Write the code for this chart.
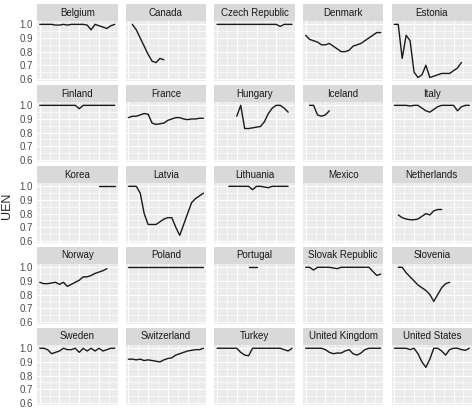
import numpy as np, pandas as pd, seaborn as sns, matplotlib
matplotlib.use("Agg")
import matplotlib.pyplot as plt
from matplotlib.patches import Rectangle
from matplotlib.ticker import MultipleLocator

n = np.nan
years = list(range(1995, 2015))
countries = ["Belgium","Canada","Czech Republic","Denmark","Estonia","Finland","France","Hungary","Iceland","Italy",
             "Korea","Latvia","Lithuania","Mexico","Netherlands","Norway","Poland","Portugal","Slovak Republic","Slovenia",
             "Sweden","Switzerland","Turkey","United Kingdom","United States"]
belgium = [1,1,1,1,.995,.995,1,.995,1,1,1,1,.995,.96,1,.99,.98,.97,.99,1]
canada = [n,1,.96,.9,.84,.78,.73,.72,.75,.74,n,n,n,n,n,n,n,n,n,n]
czech = [1,1,1,1,1,1,1,1,1,1,1,1,1,1,1,1,.985,1,1,1]
denmark = [.92,.89,.88,.87,.85,.85,.86,.84,.82,.80,.80,.81,.84,.85,.86,.88,.90,.92,.94,.94]
estonia = [1,1,.75,.92,.88,.65,.61,.63,.70,.61,.62,.63,.64,.64,.64,.66,.68,.72,n,n]
finland = [1,1,1,1,1,1,1,1,1,1,.975,1,1,1,1,1,1,1,1,1]
france = [.91,.92,.92,.93,.94,.935,.87,.86,.865,.87,.89,.90,.91,.91,.90,.895,.90,.90,.905,.905]
hungary = [n,n,n,n,n,.92,1.0,.83,.83,.835,.84,.845,.88,.94,.98,1.0,1.0,.98,.95,n]
iceland = [n,1,1,.93,.92,.93,.96,n,n,n,n,n,n,n,n,n,n,n,n,n]
italy = [1,1,1,1,.995,1,1,.98,.96,.95,.97,.99,1,1,1,1,.96,.99,1,1]
korea = [n]*15 + [1,1,1,1,1]
latvia = [1,1,1,.95,.8,.72,.72,.72,.74,.76,.77,.77,.70,.64,.72,.80,.88,.91,.93,.95]
lithuania = [n,n,n,1,1,1,1,1,1,.975,1,1,.995,.99,1,1,1,1,1,n]
mexico = [n]*20
netherlands = [n,.79,.77,.76,.755,.755,.76,.78,.80,.79,.82,.83,.83,n,n,n,n,n,n,n]
norway = [.89,.88,.88,.885,.89,.875,.89,.86,.875,.89,.905,.93,.93,.94,.955,.965,.975,.99,n,n]
poland = [1]*20
portugal = [n]*8 + [1,1,1] + [n]*9
slovak = [1,1,.98,1,1,1,1,.995,.99,1,1,1,1,1,1,1,1,.97,.94,.95]
slovenia = [n,1,1,.96,.93,.90,.87,.85,.83,.80,.75,.80,.85,.88,.89,n,n,n,n,n]
sweden = [1,1,.99,.96,.97,.98,1,.99,.99,1,.97,1,.98,1,.98,1,.98,.99,1,1]
switzerland = [.92,.92,.915,.92,.91,.915,.91,.905,.90,.915,.925,.93,.95,.96,.97,.98,.985,.99,.99,1.0]
turkey = [1,1,1,1,1,1,.97,.95,.945,1,1,1,1,1,1,1,1,.99,.98,1]
uk = [1,1,1,1,1,.99,.97,.96,.965,.965,.98,.99,.96,.95,.965,.99,1,1,1,1]
us = [1,1,1,1,.99,1,.96,.90,.86,.92,1,1,.98,.95,.99,1,1,.99,.985,1]
series = [belgium,canada,czech,denmark,estonia,finland,france,hungary,iceland,italy,korea,latvia,lithuania,mexico,
          netherlands,norway,poland,portugal,slovak,slovenia,sweden,switzerland,turkey,uk,us]

df = pd.DataFrame([{"country": c, "year": y, "UEN": v} for c, s in zip(countries, series) for y, v in zip(years, s)])

sns.set_theme(style="darkgrid", rc={"axes.facecolor": "#EBEBEB", "grid.color": "white"})
plt.rcParams['font.family'] = ['Liberation Sans', 'DejaVu Sans']
g = sns.relplot(data=df, x="year", y="UEN", col="country", col_order=countries, col_wrap=5, kind="line",
                color="#1a1a1a", linewidth=1.0, height=1, aspect=1,
                facet_kws=dict(sharex=True, sharey=True, despine=False))
fig = g.figure
fig.set_size_inches(4.74, 4.11)
fig.subplots_adjust(left=0.078, right=0.996, top=0.949, bottom=0.015, wspace=0.1, hspace=0.35)
for ax, c in zip(g.axes.flat, countries):
    ax.set_title("")
    ax.set_xlim(1994.3, 2014.7)
    ax.set_ylim(0.585, 1.025)
    ax.yaxis.set_major_locator(MultipleLocator(0.1))
    ax.yaxis.set_minor_locator(MultipleLocator(0.05))
    ax.xaxis.set_major_locator(MultipleLocator(5))
    ax.xaxis.set_minor_locator(MultipleLocator(2.5))
    ax.grid(which="major", color="white", lw=0.8)
    ax.grid(which="minor", color="white", lw=0.4)
    ax.set_xticklabels([]); ax.set_xlabel("")
    ax.tick_params(axis="x", length=0)
    ax.tick_params(axis="y", labelsize=7, colors="#4d4d4d", length=2, pad=1, which="major")
    ax.tick_params(axis="y", which="minor", length=0)
    for s in ax.spines.values():
        s.set_visible(False)
    ax.add_patch(Rectangle((0, 1.0), 1, 0.28, transform=ax.transAxes, clip_on=False,
                           facecolor="#D9D9D9", edgecolor="none"))
    ax.text(0.5, 1.14, c, transform=ax.transAxes, ha="center", va="center", fontsize=7, color="#1a1a1a")
    ax.set_ylabel("")
for i, ax in enumerate(g.axes.flat):
    if i % 5 != 0:
        ax.tick_params(axis="y", labelleft=False, length=0)
    else:
        ax.yaxis.set_major_formatter(matplotlib.ticker.FormatStrFormatter("%.1f"))
fig.text(0.015, 0.5, "UEN", rotation=90, ha="center", va="center", fontsize=9)
fig.savefig("out.png", dpi=100)
